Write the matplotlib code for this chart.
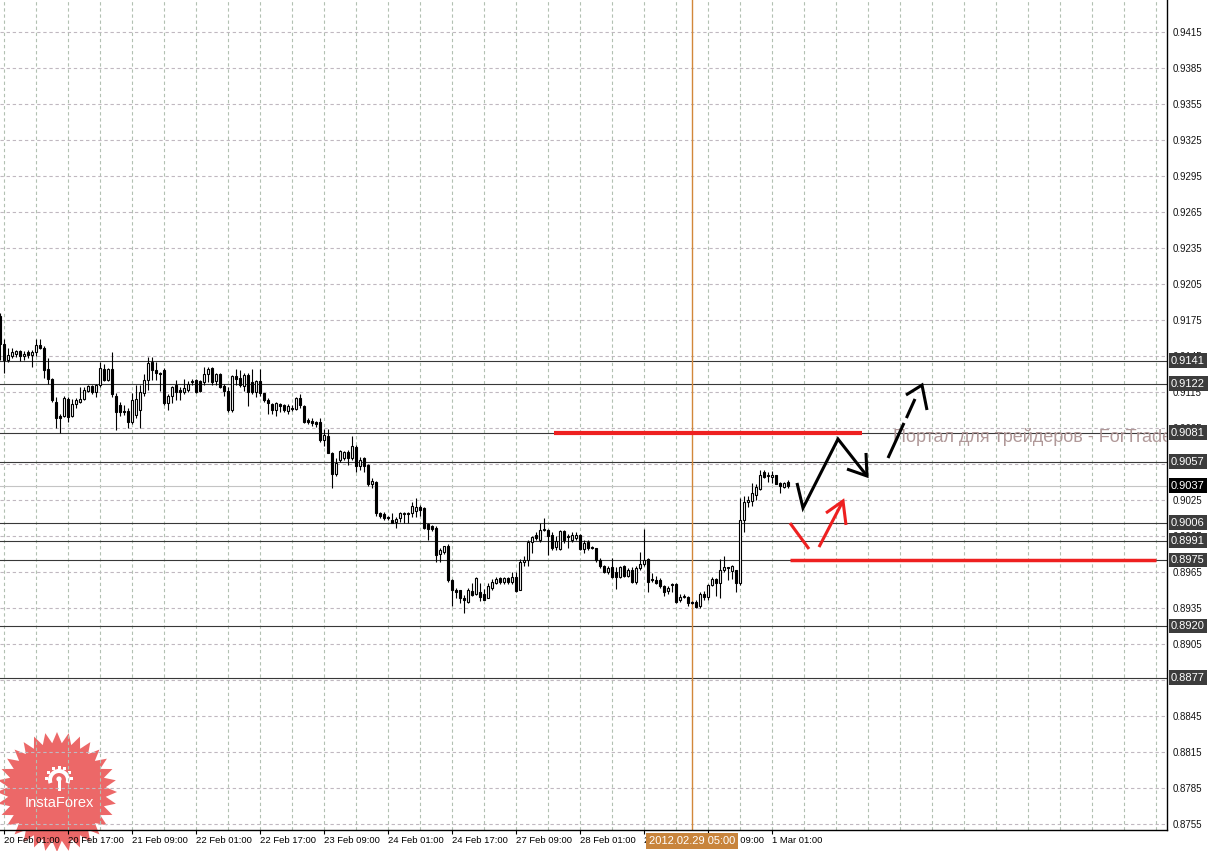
import matplotlib

matplotlib.use("Agg")
import matplotlib.pyplot as plt
import numpy as np
from matplotlib.patches import Circle, Polygon, Rectangle, Wedge
from matplotlib.transforms import blended_transform_factory

plt.rcParams["font.family"] = ["Liberation Sans", "DejaVu Sans"]

# --- H1 candles (bar 0 = 20 Feb 00:00) ---
opens = [
    0.9178, 0.9155, 0.9142, 0.9145, 0.9147, 0.9149, 0.9145, 0.9148, 0.9146, 0.9148,
    0.9154, 0.9152, 0.9134, 0.9126, 0.9107, 0.9095, 0.9095, 0.9109, 0.9095, 0.9105,
    0.9107, 0.9109, 0.9116, 0.9120, 0.9115, 0.9121, 0.9134, 0.9125, 0.9134, 0.9112,
    0.9104, 0.9099, 0.9099, 0.9090, 0.9096, 0.9100, 0.9114, 0.9125, 0.9140, 0.9133,
    0.9131, 0.9133, 0.9106, 0.9112, 0.9121, 0.9117, 0.9115, 0.9117, 0.9123, 0.9125,
    0.9124, 0.9123, 0.9130, 0.9135, 0.9124, 0.9130, 0.9120, 0.9116, 0.9100, 0.9128,
    0.9127, 0.9120, 0.9129, 0.9123, 0.9115, 0.9124, 0.9114, 0.9108, 0.9105, 0.9100,
    0.9105, 0.9104, 0.9099, 0.9102, 0.9101, 0.9110, 0.9103, 0.9092, 0.9091, 0.9090,
    0.9090, 0.9075, 0.9078, 0.9064, 0.9047, 0.9058, 0.9060, 0.9065, 0.9060, 0.9069,
    0.9053, 0.9060, 0.9054, 0.9038, 0.9040, 0.9014, 0.9013, 0.9011, 0.9008, 0.9007,
    0.9010, 0.9013, 0.9014, 0.9014, 0.9016, 0.9019, 0.9018, 0.9005, 0.9003, 0.9002,
    0.8980, 0.8982, 0.8987, 0.8958, 0.8950, 0.8950, 0.8943, 0.8940, 0.8949, 0.8947,
    0.8948, 0.8947, 0.8943, 0.8952, 0.8956, 0.8960, 0.8957, 0.8960, 0.8957, 0.8961,
    0.8950, 0.8973, 0.8975, 0.8990, 0.8996, 0.8992, 0.9000, 0.9000, 0.8996, 0.8986,
    0.8984, 0.8999, 0.8995, 0.8992, 0.8993, 0.8996, 0.8984, 0.8990, 0.8986, 0.8985,
    0.8975, 0.8970, 0.8965, 0.8969, 0.8965, 0.8961, 0.8970, 0.8962, 0.8967, 0.8957,
    0.8968, 0.8972, 0.8976, 0.8959, 0.8958, 0.8958, 0.8953, 0.8949, 0.8955, 0.8955,
    0.8942, 0.8944, 0.8944, 0.8940, 0.8940, 0.8937, 0.8947, 0.8944, 0.8954, 0.8959,
    0.8956, 0.8967, 0.8969, 0.8966, 0.8967, 0.8956, 0.9008, 0.9023, 0.9024, 0.9029,
    0.9034, 0.9048, 0.9045, 0.9044, 0.9046, 0.9039, 0.9036, 0.9040,
]
highs = [
    0.9181, 0.9159, 0.9152, 0.9152, 0.9150, 0.9150, 0.9149, 0.9150, 0.9150, 0.9159,
    0.9159, 0.9153, 0.9143, 0.9127, 0.9111, 0.9097, 0.9112, 0.9111, 0.9109, 0.9110,
    0.9119, 0.9119, 0.9121, 0.9121, 0.9122, 0.9140, 0.9138, 0.9135, 0.9148, 0.9114,
    0.9107, 0.9104, 0.9102, 0.9114, 0.9121, 0.9121, 0.9130, 0.9144, 0.9144, 0.9140,
    0.9132, 0.9135, 0.9113, 0.9120, 0.9125, 0.9119, 0.9126, 0.9124, 0.9126, 0.9126,
    0.9125, 0.9136, 0.9136, 0.9136, 0.9131, 0.9131, 0.9122, 0.9119, 0.9129, 0.9134,
    0.9133, 0.9131, 0.9131, 0.9134, 0.9125, 0.9134, 0.9114, 0.9110, 0.9106, 0.9107,
    0.9106, 0.9105, 0.9105, 0.9104, 0.9111, 0.9113, 0.9104, 0.9093, 0.9093, 0.9091,
    0.9093, 0.9084, 0.9084, 0.9065, 0.9060, 0.9067, 0.9066, 0.9067, 0.9078, 0.9071,
    0.9061, 0.9061, 0.9055, 0.9043, 0.9041, 0.9015, 0.9015, 0.9012, 0.9014, 0.9011,
    0.9015, 0.9015, 0.9015, 0.9023, 0.9027, 0.9021, 0.9019, 0.9006, 0.9004, 0.9003,
    0.8985, 0.8987, 0.8988, 0.8959, 0.8952, 0.8950, 0.8946, 0.8952, 0.8956, 0.8961,
    0.8956, 0.8951, 0.8956, 0.8959, 0.8961, 0.8961, 0.8961, 0.8961, 0.8965, 0.8965,
    0.8976, 0.8978, 0.8992, 0.8995, 0.8998, 0.9006, 0.9010, 0.9001, 0.8998, 0.8995,
    0.9000, 0.9000, 0.8997, 0.8998, 0.8998, 0.8997, 0.8992, 0.8992, 0.8987, 0.8985,
    0.8977, 0.8971, 0.8970, 0.8977, 0.8969, 0.8970, 0.8971, 0.8968, 0.8969, 0.8970,
    0.8982, 0.9001, 0.8977, 0.8964, 0.8962, 0.8960, 0.8954, 0.8953, 0.8956, 0.8956,
    0.8947, 0.8947, 0.8945, 0.8941, 0.8942, 0.8948, 0.8949, 0.8955, 0.8961, 0.8960,
    0.8976, 0.8978, 0.8969, 0.8971, 0.8967, 0.9027, 0.9028, 0.9028, 0.9039, 0.9038,
    0.9050, 0.9050, 0.9048, 0.9049, 0.9046, 0.9040, 0.9040, 0.9042,
]
lows = [
    0.9142, 0.9131, 0.9140, 0.9143, 0.9144, 0.9141, 0.9142, 0.9143, 0.9136, 0.9145,
    0.9151, 0.9127, 0.9122, 0.9107, 0.9085, 0.9081, 0.9094, 0.9090, 0.9094, 0.9102,
    0.9106, 0.9108, 0.9115, 0.9113, 0.9111, 0.9119, 0.9124, 0.9124, 0.9111, 0.9083,
    0.9095, 0.9096, 0.9085, 0.9088, 0.9093, 0.9085, 0.9112, 0.9117, 0.9125, 0.9125,
    0.9116, 0.9104, 0.9100, 0.9106, 0.9108, 0.9108, 0.9113, 0.9115, 0.9121, 0.9114,
    0.9115, 0.9121, 0.9123, 0.9121, 0.9121, 0.9118, 0.9112, 0.9098, 0.9098, 0.9121,
    0.9119, 0.9116, 0.9103, 0.9113, 0.9111, 0.9112, 0.9107, 0.9097, 0.9097, 0.9095,
    0.9098, 0.9098, 0.9097, 0.9099, 0.9100, 0.9102, 0.9089, 0.9088, 0.9087, 0.9086,
    0.9073, 0.9070, 0.9064, 0.9035, 0.9045, 0.9057, 0.9058, 0.9054, 0.9058, 0.9048,
    0.9050, 0.9048, 0.9037, 0.9035, 0.9012, 0.9010, 0.9008, 0.9008, 0.9006, 0.9002,
    0.9007, 0.9006, 0.9006, 0.9011, 0.9011, 0.9012, 0.9001, 0.8992, 0.8999, 0.8973,
    0.8973, 0.8980, 0.8957, 0.8937, 0.8943, 0.8939, 0.8931, 0.8939, 0.8945, 0.8946,
    0.8941, 0.8942, 0.8943, 0.8950, 0.8955, 0.8955, 0.8955, 0.8955, 0.8955, 0.8948,
    0.8950, 0.8970, 0.8970, 0.8981, 0.8992, 0.8990, 0.8999, 0.8979, 0.8983, 0.8983,
    0.8983, 0.8989, 0.8985, 0.8990, 0.8992, 0.8983, 0.8981, 0.8983, 0.8984, 0.8973,
    0.8968, 0.8964, 0.8963, 0.8960, 0.8951, 0.8960, 0.8961, 0.8961, 0.8956, 0.8955,
    0.8967, 0.8970, 0.8948, 0.8957, 0.8955, 0.8952, 0.8945, 0.8947, 0.8948, 0.8939,
    0.8940, 0.8943, 0.8937, 0.8938, 0.8935, 0.8935, 0.8942, 0.8942, 0.8953, 0.8945,
    0.8943, 0.8965, 0.8958, 0.8959, 0.8948, 0.8954, 0.8998, 0.9019, 0.9020, 0.9025,
    0.9033, 0.9043, 0.9040, 0.9039, 0.9038, 0.9031, 0.9035, 0.9035,
]
closes = [
    0.9155, 0.9142, 0.9146, 0.9148, 0.9149, 0.9145, 0.9147, 0.9146, 0.9148, 0.9154,
    0.9152, 0.9133, 0.9126, 0.9108, 0.9093, 0.9093, 0.9110, 0.9094, 0.9105, 0.9108,
    0.9109, 0.9117, 0.9120, 0.9115, 0.9121, 0.9135, 0.9125, 0.9134, 0.9113, 0.9098,
    0.9098, 0.9098, 0.9090, 0.9108, 0.9109, 0.9115, 0.9125, 0.9139, 0.9133, 0.9131,
    0.9130, 0.9106, 0.9112, 0.9119, 0.9115, 0.9115, 0.9118, 0.9122, 0.9124, 0.9115,
    0.9116, 0.9130, 0.9134, 0.9123, 0.9130, 0.9119, 0.9116, 0.9100, 0.9128, 0.9126,
    0.9121, 0.9129, 0.9115, 0.9115, 0.9124, 0.9114, 0.9108, 0.9106, 0.9100, 0.9106,
    0.9103, 0.9100, 0.9103, 0.9101, 0.9110, 0.9104, 0.9090, 0.9090, 0.9089, 0.9088,
    0.9075, 0.9079, 0.9064, 0.9047, 0.9056, 0.9066, 0.9065, 0.9060, 0.9070, 0.9053,
    0.9058, 0.9053, 0.9038, 0.9041, 0.9014, 0.9012, 0.9010, 0.9010, 0.9006, 0.9009,
    0.9014, 0.9014, 0.9013, 0.9020, 0.9019, 0.9017, 0.9002, 0.9001, 0.9001, 0.8979,
    0.8983, 0.8987, 0.8958, 0.8950, 0.8948, 0.8943, 0.8942, 0.8950, 0.8946, 0.8960,
    0.8944, 0.8942, 0.8953, 0.8957, 0.8959, 0.8957, 0.8960, 0.8957, 0.8961, 0.8949,
    0.8973, 0.8975, 0.8990, 0.8994, 0.8993, 0.9000, 0.9001, 0.8995, 0.8985, 0.8991,
    0.8999, 0.8992, 0.8994, 0.8996, 0.8996, 0.8984, 0.8989, 0.8985, 0.8985, 0.8975,
    0.8970, 0.8965, 0.8968, 0.8961, 0.8961, 0.8969, 0.8962, 0.8967, 0.8957, 0.8968,
    0.8972, 0.8975, 0.8957, 0.8958, 0.8956, 0.8953, 0.8948, 0.8952, 0.8954, 0.8940,
    0.8944, 0.8945, 0.8939, 0.8939, 0.8936, 0.8947, 0.8944, 0.8954, 0.8959, 0.8956,
    0.8967, 0.8969, 0.8968, 0.8970, 0.8956, 0.9008, 0.9023, 0.9025, 0.9031, 0.9036,
    0.9046, 0.9044, 0.9046, 0.9046, 0.9038, 0.9037, 0.9039, 0.9037,
]

# horizontal levels drawn on the chart, and the current bid
level_prices = [0.9141, 0.9122, 0.9081, 0.9057, 0.9006, 0.8991, 0.8975, 0.8920, 0.8877]
bid_price = 0.9037

# price scale and time scale
price_ticks = [0.8755, 0.8785, 0.8815, 0.8845, 0.8875, 0.8905, 0.8935, 0.8965,
               0.8995, 0.9025, 0.9055, 0.9085, 0.9115, 0.9145, 0.9175, 0.9205,
               0.9235, 0.9265, 0.9295, 0.9325, 0.9355, 0.9385, 0.9415]
time_tick_bars = [1, 17, 33, 49, 65, 81, 97, 113, 129, 145, 161, 177, 193]
time_tick_labels = ["20 Feb 01:00", "20 Feb 17:00", "21 Feb 09:00", "22 Feb 01:00",
                    "22 Feb 17:00", "23 Feb 09:00", "24 Feb 01:00", "24 Feb 17:00",
                    "27 Feb 09:00", "28 Feb 01:00", "28 Feb 17:00", "29 Feb 09:00",
                    "1 Mar 01:00"]
cursor_bar = 173
cursor_label = "2012.02.29 05:00"

# hand-drawn forecast (bar index, price)
red_upper = (0.9081, 138.5, 215.4)
red_lower = (0.8975, 197.5, 289.0)
black_path_x = [199.25, 200.75, 209.5, 216.75]
black_path_y = [0.90392, 0.90183, 0.90758, 0.90450]
black_head_x = [211.75, 216.75, 216.5]
black_head_y = [0.90508, 0.90450, 0.90642]
dash_seg1_x, dash_seg1_y = [222.0, 226.0], [0.90600, 0.90892]
dash_seg2_x, dash_seg2_y = [226.6, 228.75], [0.90933, 0.91092]
dash_head_x = [226.5, 230.5, 231.75]
dash_head_y = [0.91125, 0.91208, 0.91000]
red_seg1_x, red_seg1_y = [197.5, 202.25], [0.90058, 0.89842]
red_seg2_x, red_seg2_y = [204.75, 210.75], [0.89858, 0.90242]
red_head_x = [206.5, 210.75, 211.5]
red_head_y = [0.90142, 0.90242, 0.90042]
watermark = "Портал для трейдеров - ForTrader.ru"

W, H = 1209, 851
fig = plt.figure(figsize=(W / 100, H / 100), dpi=100, facecolor="white")

# logo layer, under the chart
logo_ax = fig.add_axes([0, 0, 1, 1])
logo_ax.set_xlim(0, W)
logo_ax.set_ylim(H, 0)
logo_ax.axis("off")
logo_ax.set_zorder(0)
cx, cy, n_spikes = 57, 792, 32
ang = np.linspace(0, 2 * np.pi, 2 * n_spikes, endpoint=False)
rad = np.where(np.arange(2 * n_spikes) % 2 == 0, 60, 49)
star = np.column_stack([cx + rad * np.cos(ang), cy + rad * np.sin(ang)])
logo_ax.add_patch(Polygon(star, closed=True, fc="#ea5858", ec="none", alpha=0.9))
logo_ax.add_patch(Wedge((59, 780), 11, 160, 380, width=4, fc="white", ec="none"))
for a in np.deg2rad([185, 215, 245, 270, 295, 325, 355]):
    logo_ax.add_patch(Rectangle((59 + 12.5 * np.cos(a) - 1.5, 780 + 12.5 * np.sin(a) - 1.5),
                                3, 3, fc="white", ec="none"))
logo_ax.add_patch(Circle((59, 779), 2.6, fc="white", ec="none"))
logo_ax.add_patch(Rectangle((57.5, 780), 3, 11, fc="white", ec="none"))
logo_ax.text(59, 803, "InstaForex", ha="center", va="center", color="white", fontsize=10.5)

# chart
ax = fig.add_axes([0, 21 / H, 1167 / W, 830 / H])
ax.set_zorder(1)
ax.patch.set_visible(False)
ax.set_xlim(0, 1167 / 4)
ax.set_ylim(0.8750, 0.944167)

for b in range(1, 292, 8):
    ax.axvline(b, color="#b2c0b2", lw=0.8, ls=(0, (3, 2.5)), zorder=0.5)
for p in price_ticks:
    ax.axhline(p, color="#c0b8c0", lw=0.8, ls=(0, (3, 2.5)), zorder=0.5)

ax.axhline(bid_price, color="#c4c4c4", lw=0.8, zorder=1)
for p in level_prices:
    ax.axhline(p, color="#383838", lw=0.8, zorder=1.2)
ax.axvline(cursor_bar, color="#d2873a", lw=1.0, zorder=1.3)

o, hi, lo, c = (np.array(v) for v in (opens, highs, lows, closes))
idx = np.arange(len(c))
ax.vlines(idx, lo, hi, color="black", lw=0.8, zorder=3)
up = c >= o
ax.bar(idx, np.abs(c - o), bottom=np.minimum(o, c), width=0.6,
       color=np.where(up, "white", "black"), edgecolor="black", linewidth=0.8, zorder=4)

red = "#ee2020"
ax.hlines(red_upper[0], red_upper[1], red_upper[2], color=red, lw=3, zorder=5)
ax.hlines(red_lower[0], red_lower[1], red_lower[2], color=red, lw=2.5, zorder=5)
ax.text(223.25, 0.90734, watermark, ha="left", va="baseline", fontsize=13,
        color="#b09898", clip_on=True, zorder=5)

line_kw = dict(lw=2.2, solid_capstyle="butt", solid_joinstyle="miter", zorder=6)
ax.plot(black_path_x, black_path_y, color="black", **line_kw)
ax.plot(black_head_x, black_head_y, color="black", **line_kw)
ax.plot(dash_seg1_x, dash_seg1_y, color="black", **line_kw)
ax.plot(dash_seg2_x, dash_seg2_y, color="black", **line_kw)
ax.plot(dash_head_x, dash_head_y, color="black", **line_kw)
ax.plot(red_seg1_x, red_seg1_y, color=red, **line_kw)
ax.plot(red_seg2_x, red_seg2_y, color=red, **line_kw)
ax.plot(red_head_x, red_head_y, color=red, **line_kw)

# axes frame and scales
for side in ("left", "top"):
    ax.spines[side].set_visible(False)
for side in ("right", "bottom"):
    ax.spines[side].set_color("black")
    ax.spines[side].set_linewidth(1.0)

ax.yaxis.tick_right()
ax.set_yticks(price_ticks)
ax.set_yticklabels([f"{p:.4f}" for p in price_ticks])
ax.tick_params(axis="y", length=0, pad=4, labelsize=7, labelcolor="#141414")

ax.set_xticks(time_tick_bars)
ax.set_xticklabels(time_tick_labels)
ax.tick_params(axis="x", length=3, width=0.8, pad=1.5, labelsize=6.8, direction="out")
for lab in ax.get_xticklabels():
    lab.set_ha("left")

ytr = blended_transform_factory(ax.transAxes, ax.transData)
for p in level_prices:
    ax.text(1.0035, p, f"{p:.4f}", transform=ytr, ha="left", va="center", color="white",
            fontsize=8, clip_on=False, zorder=7,
            bbox=dict(boxstyle="square,pad=0.22", fc="#3c3c3c", ec="none"))
ax.text(1.0035, bid_price, f"{bid_price:.4f}", transform=ytr, ha="left", va="center",
        color="white", fontsize=8, clip_on=False, zorder=7,
        bbox=dict(boxstyle="square,pad=0.22", fc="black", ec="none"))

xtr = blended_transform_factory(ax.transData, ax.transAxes)
ax.text(cursor_bar, -0.0133, cursor_label, transform=xtr, ha="center", va="center",
        color="white", fontsize=8, clip_on=False, zorder=7,
        bbox=dict(boxstyle="square,pad=0.3", fc="#c8843c", ec="none"))

fig.savefig("out.png", dpi=100, facecolor="white")
